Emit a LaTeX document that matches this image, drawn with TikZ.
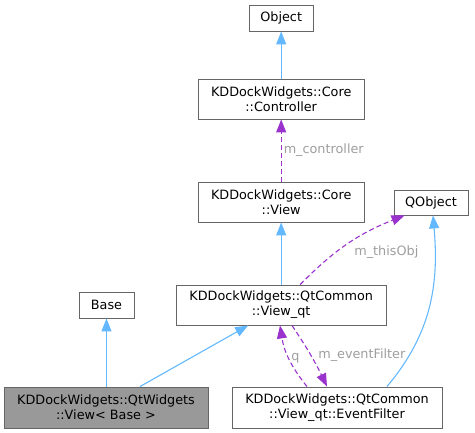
\documentclass[tikz,border=0pt]{standalone}
\usepackage{fontspec}
\setmainfont{DejaVu Sans}
\usetikzlibrary{arrows.meta}
\definecolor{edgeblue}{HTML}{63B8FF}
\definecolor{edgepurple}{HTML}{9A32CD}
\definecolor{boxgray}{HTML}{666666}
\definecolor{labelgray}{HTML}{9E9E9E}
\definecolor{fillgray}{HTML}{999999}

\begin{document}
\begin{tikzpicture}[x=1pt,y=1pt,
    cls/.style={draw=boxgray,line width=0.9pt,fill=white,align=center,inner sep=0pt,font=\fontsize{12.8}{15}\selectfont},
    inh/.style={draw=edgeblue,line width=1.1pt,-{Triangle[length=13pt,width=10pt]}},
    usage/.style={draw=edgepurple,line width=1.1pt,dash pattern=on 5pt off 3pt,-{Triangle[length=13pt,width=10pt]}},
    lbl/.style={text=labelgray,font=\fontsize{12.8}{15}\selectfont,inner sep=1pt}]
      \useasboundingbox (0,0) rectangle (475,433);
      \node[cls,minimum width=64,minimum height=26] (object) at (281.2,415) {Object};
      \node[cls,minimum width=166,minimum height=40] (ctrl) at (281.2,334) {KDDockWidgets::Core\\::Controller};
      \node[cls,minimum width=166,minimum height=40] (coreview) at (281.2,231) {KDDockWidgets::Core\\::View};
      \node[cls,minimum width=74,minimum height=25] (qobject) at (431,230.5) {QObject};
      \node[cls,minimum width=210,minimum height=40] (viewqt) at (281.2,128) {KDDockWidgets::QtCommon\\::View\_qt};
      \node[cls,minimum width=55,minimum height=26] (base) at (106.5,128) {Base};
      \node[cls,fill=fillgray,minimum width=204,minimum height=41] (qtwview) at (106,25.5) {KDDockWidgets::QtWidgets\\::View< Base >};
      \node[cls,minimum width=210,minimum height=41] (filter) at (337,25.5) {KDDockWidgets::QtCommon\\::View\_qt::EventFilter};
      \draw[inh] (ctrl) -- (object);
      \draw[usage] (coreview) -- node[lbl,right,xshift=1] (lctrl) {m\_controller} (ctrl);
      \draw[inh] (viewqt) -- (coreview);
      \draw[usage] ([xshift=19]viewqt.north) to[bend left=12] node[lbl,pos=0.37,anchor=west,xshift=17] (lthis) {m\_thisObj} ([xshift=11]qobject.south west);
      \draw[inh] ([xshift=50]filter.north) to[out=50,in=-85] ([xshift=2]qobject.south);
      \draw[inh] ([xshift=0.5]qtwview.north) -- (base);
      \draw[inh] ([xshift=34]qtwview.north) -- ([xshift=-33]viewqt.south);
      \draw[usage] ([xshift=-30]filter.north) to[bend left=15] node[lbl,right,xshift=1] (lq) {q} ([xshift=-1.2]viewqt.south);
      \draw[usage] ([xshift=10.8]viewqt.south) to[bend left=4] node[lbl,anchor=west,xshift=6] (lfilter) {m\_eventFilter} ([xshift=-10]filter.north);
\end{tikzpicture}
\end{document}
